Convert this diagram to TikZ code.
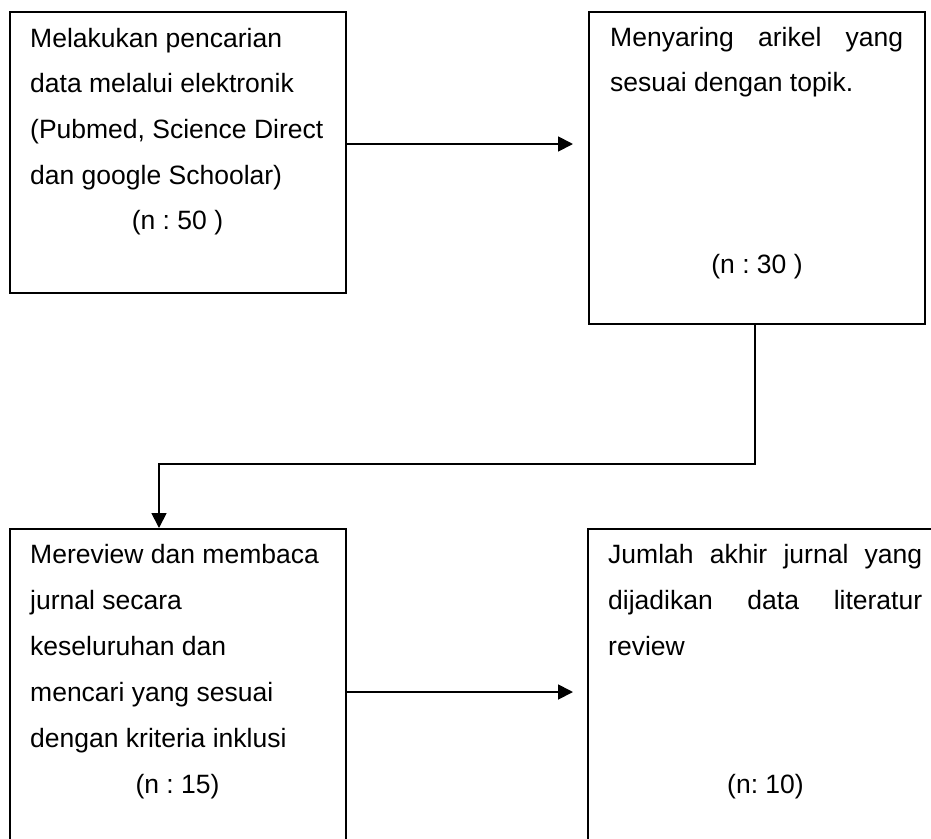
\documentclass[tikz,border=0pt]{standalone}
\usepackage{fontspec}
\setmainfont{Liberation Sans}
\usetikzlibrary{arrows.meta}
\frenchspacing
\begin{document}
\begin{tikzpicture}[x=1pt,y=-1pt,
  box/.style={draw=black,line width=2pt,rectangle,inner sep=0pt,anchor=north west},
  conn/.style={draw=black,line width=1.8pt},
  arr/.style={conn,-{Triangle[length=15pt,width=15pt]}},
  txt/.style={anchor=base west,inner sep=0pt,font=\fontsize{26.5}{30}\selectfont},
  ctxt/.style={anchor=base,inner sep=0pt,font=\fontsize{26.5}{30}\selectfont}]
\useasboundingbox (0,0) rectangle (931,838);
\clip (0,0) rectangle (931,838);
\fill[white] (0,0) rectangle (931,838);
% boxes
\node[box,minimum width=336pt,minimum height=281pt] (b1) at (9,11) {};
\node[box,minimum width=336pt,minimum height=312pt] (b2) at (588,11) {};
\node[box,minimum width=336pt,minimum height=350pt] (b3) at (9,528) {};
\node[box,minimum width=360pt,minimum height=350pt] (b4) at (587,528) {};
% box 1 text
\node[txt] (t1a) at (30,47) {Melakukan pencarian};
\node[txt] (t1b) at (30,92.7) {data melalui elektronik};
\node[txt] (t1c) at (30,138.4) {(Pubmed, Science Direct};
\node[txt] (t1d) at (30,184.1) {dan google Schoolar)};
\node[ctxt] (t1e) at (177.5,229.8) {(n : 50 )};
% box 2 text
\node[txt] (t2a) at (610,46) {\makebox[293pt][s]{Menyaring arikel yang}};
\node[txt] (t2b) at (610,91.7) {sesuai dengan topik.};
\node[ctxt] (t2c) at (757,273) {(n : 30 )};
% box 3 text
\node[txt] (t3a) at (30,563) {Mereview dan membaca};
\node[txt] (t3b) at (30,609) {jurnal secara};
\node[txt] (t3c) at (30,655) {keseluruhan dan};
\node[txt] (t3d) at (30,701) {mencari yang sesuai};
\node[txt] (t3e) at (30,747) {dengan kriteria inklusi};
\node[ctxt] (t3f) at (177.5,793) {(n : 15)};
% box 4 text
\node[txt] (t4a) at (608,563) {\makebox[314pt][s]{Jumlah akhir jurnal yang}};
\node[txt] (t4b) at (608,609) {\makebox[314pt][s]{dijadikan data literatur}};
\node[txt] (t4c) at (608,655) {review};
\node[ctxt] (t4d) at (765.5,793) {(n: 10)};
% connectors
\coordinate (y1) at (0,144);
\coordinate (y2) at (0,692);
\coordinate (k) at (159,464);
\coordinate (kx) at (755,0);
\draw[arr,shorten >=15pt] (b1.east |- y1) -- (b2.west |- y1);
\draw[arr] (b2.south -| kx) |- (k) -- (b3.north -| k);
\draw[arr,shorten >=14pt] (b3.east |- y2) -- (b4.west |- y2);
\end{tikzpicture}
\end{document}
